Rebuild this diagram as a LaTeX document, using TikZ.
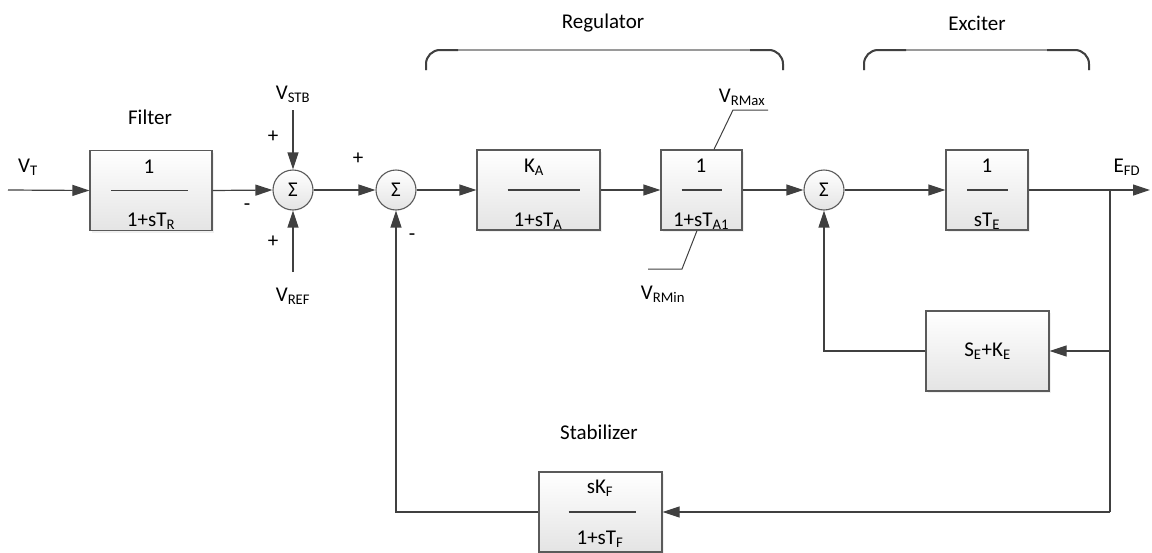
\documentclass[tikz,border=0pt]{standalone}
\usepackage{fontspec}
\setmainfont{Carlito}
\usetikzlibrary{arrows.meta,shadows,calc}
\definecolor{linec}{HTML}{404040}
\definecolor{boxc}{HTML}{5A5A5A}
\definecolor{boxbot}{HTML}{E4E4E4}
\definecolor{bracelight}{HTML}{9A9A9A}
\begin{document}
\begin{tikzpicture}[x=1pt,y=-1pt,
  font=\fontsize{21}{25}\selectfont,
  line/.style={draw=linec,line width=1.2pt},
  arr/.style={line,-{Triangle[length=17pt,width=11pt]}},
  blk/.style={draw=boxc,line width=1.2pt,top color=white,bottom color=boxbot,
    minimum height=80pt,inner sep=0pt,
    drop shadow={opacity=0.12,shadow xshift=2pt,shadow yshift=-2pt}},
  sumc/.style={circle,draw=boxc,line width=1.1pt,top color=white,bottom color=boxbot,
    minimum size=40pt,inner sep=0pt},
  lbl/.style={inner sep=0pt},
  fracline/.style={draw=linec,line width=1.1pt},
  lim/.style={draw=linec,line width=1pt},
  brl/.style={draw=bracelight,line width=1.6pt},
  brd/.style={draw=linec,line width=2pt}
]
\useasboundingbox (0,0) rectangle (1152,552);

% blocks
\node[blk,minimum width=122pt] (filt) at (151,190.5) {};
\node[blk,minimum width=123pt] (ka) at (538.5,190) {};
\node[blk,minimum width=81pt] (ta1) at (701.5,190) {};
\node[blk,minimum width=82pt] (te) at (987,190) {};
\node[blk,minimum width=123pt] (seke) at (987.5,351) {S\textsubscript{E}+K\textsubscript{E}};
\node[blk,minimum width=123pt] (stab) at (600.5,512) {};

% fraction lines
\draw[fracline] ($(filt.center)+(-40,0)$) -- ($(filt.center)+(37,0)$);
\draw[fracline] ($(ka.center)+(-31,0)$) -- ($(ka.center)+(41,0)$);
\draw[fracline] ($(ta1.center)+(-20,0)$) -- ($(ta1.center)+(20,0)$);
\draw[fracline] ($(te.center)+(-20,0)$) -- ($(te.center)+(21,0)$);
\draw[fracline] ($(stab.center)+(-32,0)$) -- ($(stab.center)+(35,0)$);

% block texts
\node[lbl] (filtn) at (149,167) {1};
\node[lbl] (filtd) at (151,221) {1+sT\textsubscript{R}};
\node[lbl] (kan) at (534,167) {K\textsubscript{A}};
\node[lbl] (kad) at (538,221) {1+sT\textsubscript{A}};
\node[lbl] (ta1n) at (701,166) {1};
\node[lbl] (ta1d) at (701,221) {1+sT\textsubscript{A1}};
\node[lbl] (ten) at (987,166) {1};
\node[lbl] (ted) at (987,221) {sT\textsubscript{E}};
\node[lbl] (stabn) at (600,488) {sK\textsubscript{F}};
\node[lbl] (stabd) at (600,539) {1+sT\textsubscript{F}};

% summing junctions
\node[sumc] (s1) at (293,190) {Σ};
\node[sumc] (s2) at (396,190) {Σ};
\node[sumc] (s3) at (824,190) {Σ};

% labels
\node[lbl] (vt) at (28,167) {V\textsubscript{T}};
\node[lbl] (filter) at (150,117) {Filter};
\node[lbl] (vstb) at (293,94) {V\textsubscript{STB}};
\node[lbl] (vref) at (293,296) {V\textsubscript{REF}};
\node[lbl] (p1) at (273,137) {+};
\node[lbl] (m1) at (247,207) {-};
\node[lbl] (p2) at (273,242) {+};
\node[lbl] (p3) at (358,159) {+};
\node[lbl] (m2) at (412,237) {-};
\node[lbl] (vrmax) at (742,97) {V\textsubscript{RMax}};
\node[lbl] (vrmin) at (663,294) {V\textsubscript{RMin}};
\node[lbl] (efd) at (1127,167) {E\textsubscript{FD}};
\node[lbl] (reg) at (603,23) {Regulator};
\node[lbl] (exc) at (977,23) {Exciter};
\node[lbl] (stabl) at (599,432) {Stabilizer};

% coordinates
\coordinate (vtin) at (8,190);
\coordinate (stbin) at (293,110);
\coordinate (refin) at (293,272);
\coordinate (out) at (1150,190);
\coordinate (br) at (1110,190);
\coordinate (brb) at (1110,512);

% connectors
\draw[arr] (vtin) -- (filt.west);
\draw[arr] (filt.east) -- (s1.west);
\draw[arr] (stbin) -- (s1.north);
\draw[arr] (refin) -- (s1.south);
\draw[arr] (s1.east) -- (s2.west);
\draw[arr] (s2.east) -- (ka.west);
\draw[arr] (ka.east) -- (ta1.west);
\draw[arr] (ta1.east) -- (s3.west);
\draw[arr] (s3.east) -- (te.west);
\draw[arr] (te.east) -- (out);
\draw[line] (br) -- (brb);
\draw[arr] (br |- seke.east) -- (seke.east);
\draw[arr] (seke.west) -| (s3.south);
\draw[arr] (brb) -- (stab.east);
\draw[arr] (stab.west) -| (s2.south);

% limiter
\coordinate (rmax1) at (733,110);
\coordinate (rmax2) at (768,110);
\coordinate (rmin1) at (682,269);
\coordinate (rmin2) at (648,269);
\draw[lim] ($(ta1.north)+(12.5,0)$) -- (rmax1) -- (rmax2);
\draw[lim] ($(ta1.south)+(-4.5,0)$) -- (rmin1) -- (rmin2);

% braces
\draw[brl] (426,70) [rounded corners=14pt] -- (426,50) -- (783,50) -- (783,70);
\draw[brd] (426,70) [rounded corners=14pt] -- (426,50) -- (458,50);
\draw[brd] (750,50) [rounded corners=14pt] -- (783,50) -- (783,70);
\draw[brl] (864,70) [rounded corners=14pt] -- (864,50) -- (1089,50) -- (1089,70);
\draw[brd] (864,70) [rounded corners=14pt] -- (864,50) -- (906,50);
\draw[brd] (1047,50) [rounded corners=14pt] -- (1089,50) -- (1089,70);
\end{tikzpicture}
\end{document}
